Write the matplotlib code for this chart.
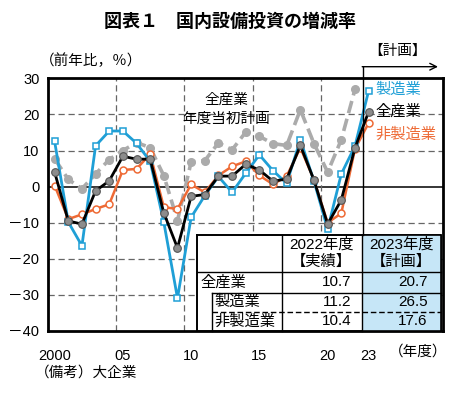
import matplotlib
matplotlib.use("Agg")
import matplotlib.pyplot as plt
from matplotlib.patches import Rectangle

plt.rcParams['font.family'] = ['Liberation Sans', 'Noto Sans CJK JP']

# data (前年比, %)
years = list(range(2000, 2024))
all_ind = [4.0, -9.5, -10.4, -1.2, 1.6, 8.4, 7.6, 7.6, -7.3, -17.0, -2.7, -2.2,
           2.9, 2.9, 6.2, 4.6, 1.5, 2.1, 11.4, 1.8, -10.4, -3.7, 10.7, 20.7]
manuf = [12.5, -9.8, -16.4, 11.3, 15.4, 15.4, 12.0, 7.0, -9.9, -30.9, -8.5, -2.5,
         2.8, -1.6, 3.7, 8.8, 4.4, 0.9, 13.0, 1.5, -11.8, 3.5, 11.2, 26.5]
non_manuf = [0.3, -9.0, -7.7, -6.2, -4.9, 4.6, 4.9, 9.0, -5.7, -6.2, 0.6, -1.6,
             3.1, 5.6, 7.0, 3.1, 0.6, 2.9, 10.8, 1.8, -10.0, -7.4, 10.4, 17.6]
plan_years = list(range(2000, 2023))
plan = [7.7, 2.0, -0.6, 3.5, 7.5, 10.0, 12.2, 10.8, 3.0, -9.4, 6.8, 7.2,
        12.1, 10.2, 15.1, 13.9, 11.9, 11.4, 21.3, 11.9, 4.0, 13.0, 26.9]

table_rows = ["全産業", "製造業", "非製造業"]
actual_2022 = [10.7, 11.2, 10.4]
plan_2023 = [20.7, 26.5, 17.6]

x_ticks = [2000, 2005, 2010, 2015, 2020, 2023]
x_labels = ["2000", "05", "10", "15", "20", "23"]
y_ticks = [30, 20, 10, 0, -10, -20, -30, -40]
y_labels = ["30", "20", "10", "0", "－10", "－20", "－30", "－40"]

BLUE = '#1f9fd6'
ORANGE = '#ee6a35'
GRAY = '#ababab'

W, H = 465, 397
fig = plt.figure(figsize=(W / 100, H / 100), dpi=100)
ax = fig.add_axes([47.8 / W, 1 - 331 / H, (443 - 47.8) / W, (331 - 78.3) / H])

ax.set_xlim(1999.5, 2028.45)
ax.set_ylim(-40, 30)

# grid
for v in [20, 10, -10, -20, -30]:
    ax.axhline(v, color='#666666', lw=0.9, ls=(0, (5, 3)), zorder=1)
ax.axhline(0, color='black', lw=1.1, zorder=1)
for v in [2004.5, 2009.5, 2014.5, 2019.5]:
    ax.axvline(v, color='#666666', lw=0.9, ls=(0, (5, 3)), zorder=1)

ax.plot(plan_years, plan, color=GRAY, lw=2.6, ls=(0, (3.5, 1.6)), marker='o',
        ms=5.5, mfc=GRAY, mec=GRAY, zorder=2)
ax.plot(years, non_manuf, color=ORANGE, lw=1.8, marker='o', ms=5,
        mfc='white', mec=ORANGE, mew=1.1, zorder=3)
ax.plot(years, manuf, color=BLUE, lw=2.0, marker='s', ms=5,
        mfc='white', mec=BLUE, mew=1.1, zorder=4)
ax.plot(years, all_ind, color='black', lw=2.0, marker='o', ms=5.5,
        mfc='#8c8c8c', mec='#555555', mew=0.8, zorder=5)

ax.set_xticks(x_ticks)
ax.set_xticklabels(x_labels, fontsize=10.5)
ax.set_yticks(y_ticks)
ax.set_yticklabels(y_labels, fontsize=10.5)
ax.tick_params(length=0)
ax.tick_params(axis='x', pad=13)
ax.tick_params(axis='y', pad=6)
for s in ax.spines.values():
    s.set_linewidth(2.0)

# overlay in pixel coordinates
ov = fig.add_axes([0, 0, 1, 1], zorder=10)
ov.set_xlim(0, W)
ov.set_ylim(H, 0)
ov.axis('off')

ov.text(230, 22, "図表１　国内設備投資の増減率", fontsize=13, fontweight='bold',
        ha='center', va='center')
ov.text(40, 61, "（前年比，％）", fontsize=10.5, ha='left', va='center')
ov.text(418, 352, "（年度）", fontsize=10.5, ha='center', va='center')
ov.text(35, 373, "（備考）大企業", fontsize=10.5, ha='left', va='center')

ov.text(226, 100, "全産業", fontsize=10.5, ha='center', va='center')
ov.text(226, 119, "年度当初計画", fontsize=10.5, ha='center', va='center')

ov.text(375, 90, "製造業", fontsize=11, color=BLUE, ha='left', va='center')
ov.text(375, 112, "全産業", fontsize=11, color='black', ha='left', va='center')
ov.text(375, 135, "非製造業", fontsize=11, color=ORANGE, ha='left', va='center')

# 計画 bracket
ov.text(397, 51, "【計画】", fontsize=10.5, ha='center', va='center')
ov.plot([362.7, 362.7], [66.7, 235], color='black', lw=1.0)
ov.annotate("", xy=(438, 66.7), xytext=(362.2, 66.7),
            arrowprops=dict(arrowstyle='->', lw=1.0, color='black',
                            mutation_scale=12, shrinkA=0, shrinkB=0))

# table
tl, tr, tt, tb = 197.3, 440.7, 235, 331
c1, c2 = 281.7, 361.7
r1, r2, r3 = 272, 292.5, 311.5
inner = 211.7
ov.add_patch(Rectangle((tl, tt), tr - tl, tb - tt, fc='white', ec='black', lw=1.2))
ov.add_patch(Rectangle((c2, tt), tr - c2, tb - tt, fc='#c6e6f7', ec='none'))
ov.plot([tl, tr, tr, tl, tl], [tt, tt, tb, tb, tt], color='black', lw=1.2)
ov.plot([c1, c1], [tt, tb], color='black', lw=1.0)
ov.plot([c2, c2], [tt, tb], color='black', lw=1.0)
ov.plot([tl, tr], [r1, r1], color='black', lw=1.0)
ov.plot([inner, tr], [r2, r2], color='black', lw=1.0)
ov.plot([inner, tr], [r3, r3], color='black', lw=1.0, ls=(0, (4, 2)))
ov.plot([inner, inner], [r2, tb], color='black', lw=1.0)

ov.text((c1 + c2) / 2, 244, "2022年度", fontsize=11, ha='center', va='center')
ov.text((c1 + c2) / 2, 262, "【実績】", fontsize=11, ha='center', va='center')
ov.text((c2 + tr) / 2, 244, "2023年度", fontsize=11, ha='center', va='center')
ov.text((c2 + tr) / 2, 262, "【計画】", fontsize=11, ha='center', va='center')

row_y = [(r1 + r2) / 2, (r2 + r3) / 2, (r3 + tb) / 2]
row_x = [200, 214, 214]
for name, a, p, y, x in zip(table_rows, actual_2022, plan_2023, row_y, row_x):
    ov.text(x, y, name, fontsize=11, ha='left', va='center')
    ov.text(c2 - 10, y, f"{a:.1f}", fontsize=11, ha='right', va='center')
    ov.text(tr - 13, y, f"{p:.1f}", fontsize=11, ha='right', va='center')

fig.savefig("out.png", dpi=100)
